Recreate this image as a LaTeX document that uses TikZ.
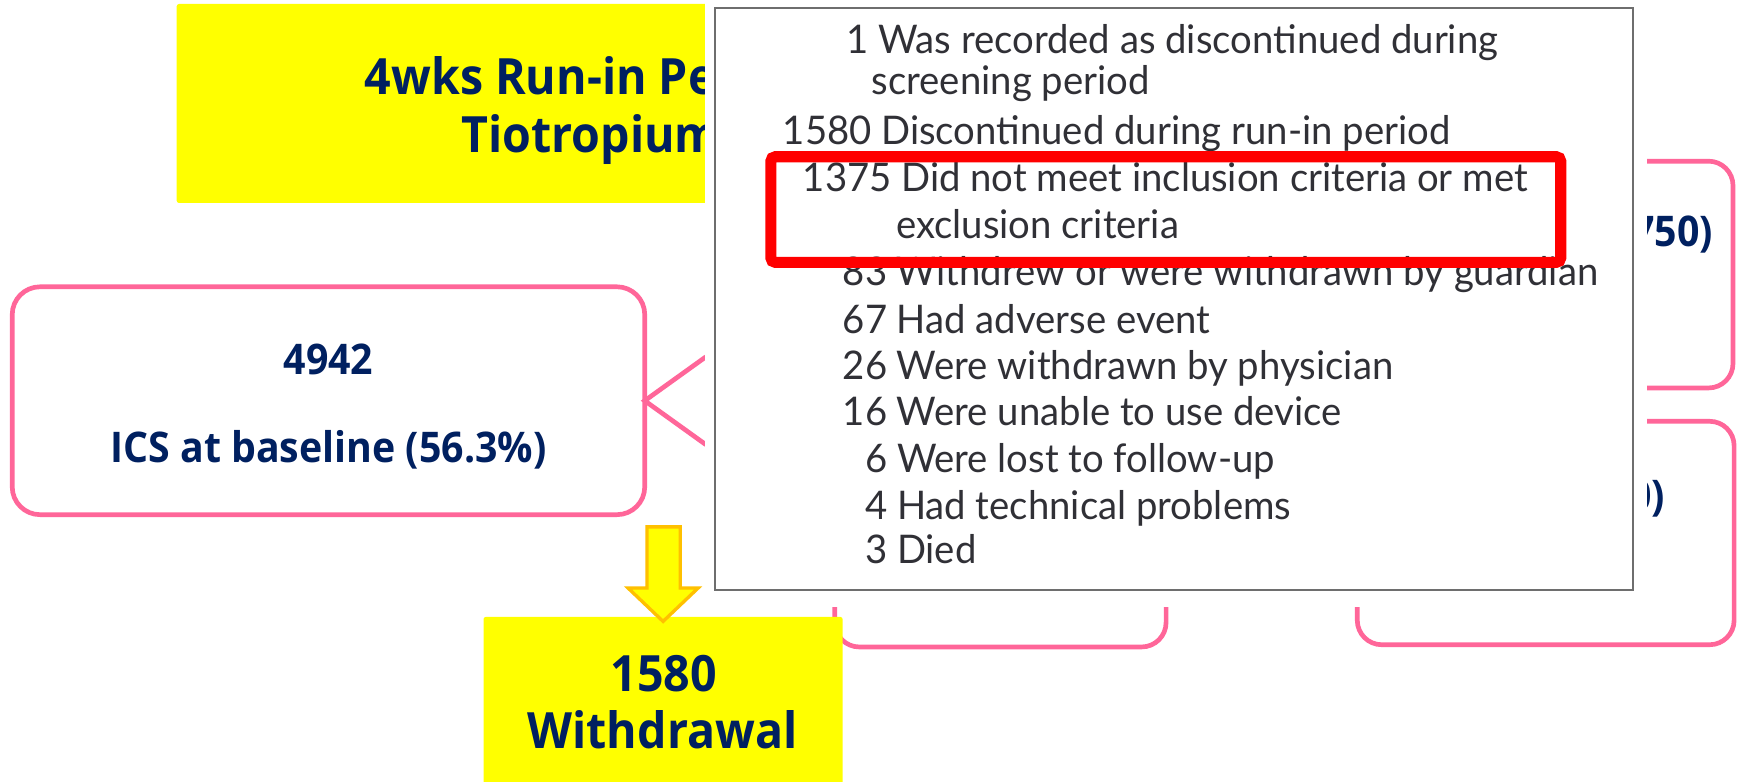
\documentclass[tikz,border=0pt]{standalone}
\usepackage{fontspec}
\newfontfamily\navyfont{Open Sans}[FakeStretch=0.93]
\newfontfamily\listfont{Lato}[FakeStretch=0.97]
\definecolor{navy}{HTML}{002060}
\definecolor{pinkline}{HTML}{FF6699}
\definecolor{arroworange}{HTML}{FFC000}
\definecolor{framegray}{HTML}{6E6E6E}
\definecolor{listtext}{HTML}{303036}
\definecolor{boxyellow}{HTML}{FFFF00}

\tikzset{
  yellowbox/.style={fill=boxyellow, draw=none, rounded corners=2pt, inner sep=0, outer sep=0},
  pinkbox/.style={draw=pinkline, line width=4.2pt, fill=white, inner sep=0, outer sep=0},
  navybig/.style={text=navy, font=\navyfont\bfseries\fontsize{45}{52}\selectfont, inner sep=0},
  navymid/.style={text=navy, font=\navyfont\bfseries\fontsize{38}{44}\selectfont, inner sep=0},
  listline/.style={text=listtext, font=\listfont\fontsize{35.5}{42}\selectfont, inner sep=0, anchor=base west},
  wedge/.style={draw=pinkline, line width=4.2pt},
  downarrow/.style={fill=boxyellow, draw=arroworange, line width=3pt, line join=miter},
}

\begin{document}
\begin{tikzpicture}[x=1pt, y=-1pt]
  \useasboundingbox (0,0) rectangle (1568,703);
  \fill[white] (0,0) rectangle (1568,703);

  % title banner
  \node[yellowbox, minimum width=541, minimum height=179, anchor=north west] (banner) at (159,3.6) {};
  \node[navybig, anchor=base west] (title1) at (328,85) {4wks Run-in Period};
  \node[navybig, anchor=base west] (title2) at (415,137) {Tiotropium};

  % ICS box
  \node[pinkbox, rounded corners=25pt, minimum width=569, minimum height=205] (ics) at (295.5,360.5) {};
  \node[navymid, anchor=base] (icsn) at (295.5,337) {4942};
  \node[navymid, anchor=base] (icsl) at (295.5,416) {ICS at baseline (56.3\%)};
  \coordinate (wedgeup) at (635,321);
  \coordinate (wedgedown) at (635,400);
  \draw[wedge] (wedgeup) -- (ics.east) -- (wedgedown);

  % right-hand arm boxes
  \node[pinkbox, rounded corners=22pt, minimum width=359, minimum height=204, anchor=north east] (armA) at (1559,145) {};
  \node[pinkbox, rounded corners=22pt, minimum width=339, minimum height=201, anchor=north east] (armB) at (1560,379) {};
  \node[pinkbox, rounded corners=22pt, minimum width=298, minimum height=162, anchor=south west] (armC) at (751,582) {};
  \node[navymid, anchor=base east] (armAn) at (1541,222) {750)};
  \node[navymid, anchor=base east] (armBn) at (1498,459) {0)};

  % reasons for discontinuation panel
  \fill[white] (634,0) rectangle (1482,546);
  \node[draw=framegray, line width=2pt, fill=white, minimum width=825.5, minimum height=524, anchor=north west, inner sep=0] (panel) at (642.5,6) {};
  \node[listline] (r1)  at (761,48)  {1 Was recorded as discontinued during};
  \node[listline] (r1b) at (784,85)  {screening period};
  \node[listline] (r2)  at (704,130) {1580 Discontinued during run-in period};
  \node[listline] (r3)  at (722,172) {1375 Did not meet inclusion criteria or met};
  \node[listline] (r3b) at (806,215) {exclusion criteria};
  \node[listline] (r4)  at (758,257) {83 Withdrew or were withdrawn by guardian};
  \node[listline] (r5)  at (758,300) {67 Had adverse event};
  \node[listline] (r6)  at (758,341) {26 Were withdrawn by physician};
  \node[listline] (r7)  at (758,383) {16 Were unable to use device};
  \node[listline] (r8)  at (778,425) {6 Were lost to follow-up};
  \node[listline] (r9)  at (778,467) {4 Had technical problems};
  \node[listline] (r10) at (778,507) {3 Died};
  \node[draw=red, line width=10pt, rounded corners=4pt, minimum width=710.5, minimum height=95, anchor=north west, inner sep=0] (highlight) at (688.5,136) {};

  % withdrawal result
  \node[yellowbox, minimum width=323, minimum height=160, anchor=north west] (withdraw) at (435,555) {};
  \node[navybig, anchor=base] (wd1) at (597,622) {1580};
  \node[navybig, anchor=base] (wd2) at (596,673) {Withdrawal};
  \coordinate (arrowtip) at (596.5,559);
  \draw[downarrow] (582,474) -- (612,474) -- (612,529) -- (628,529) -- (arrowtip) -- (565,529) -- (582,529) -- cycle;
\end{tikzpicture}
\end{document}
